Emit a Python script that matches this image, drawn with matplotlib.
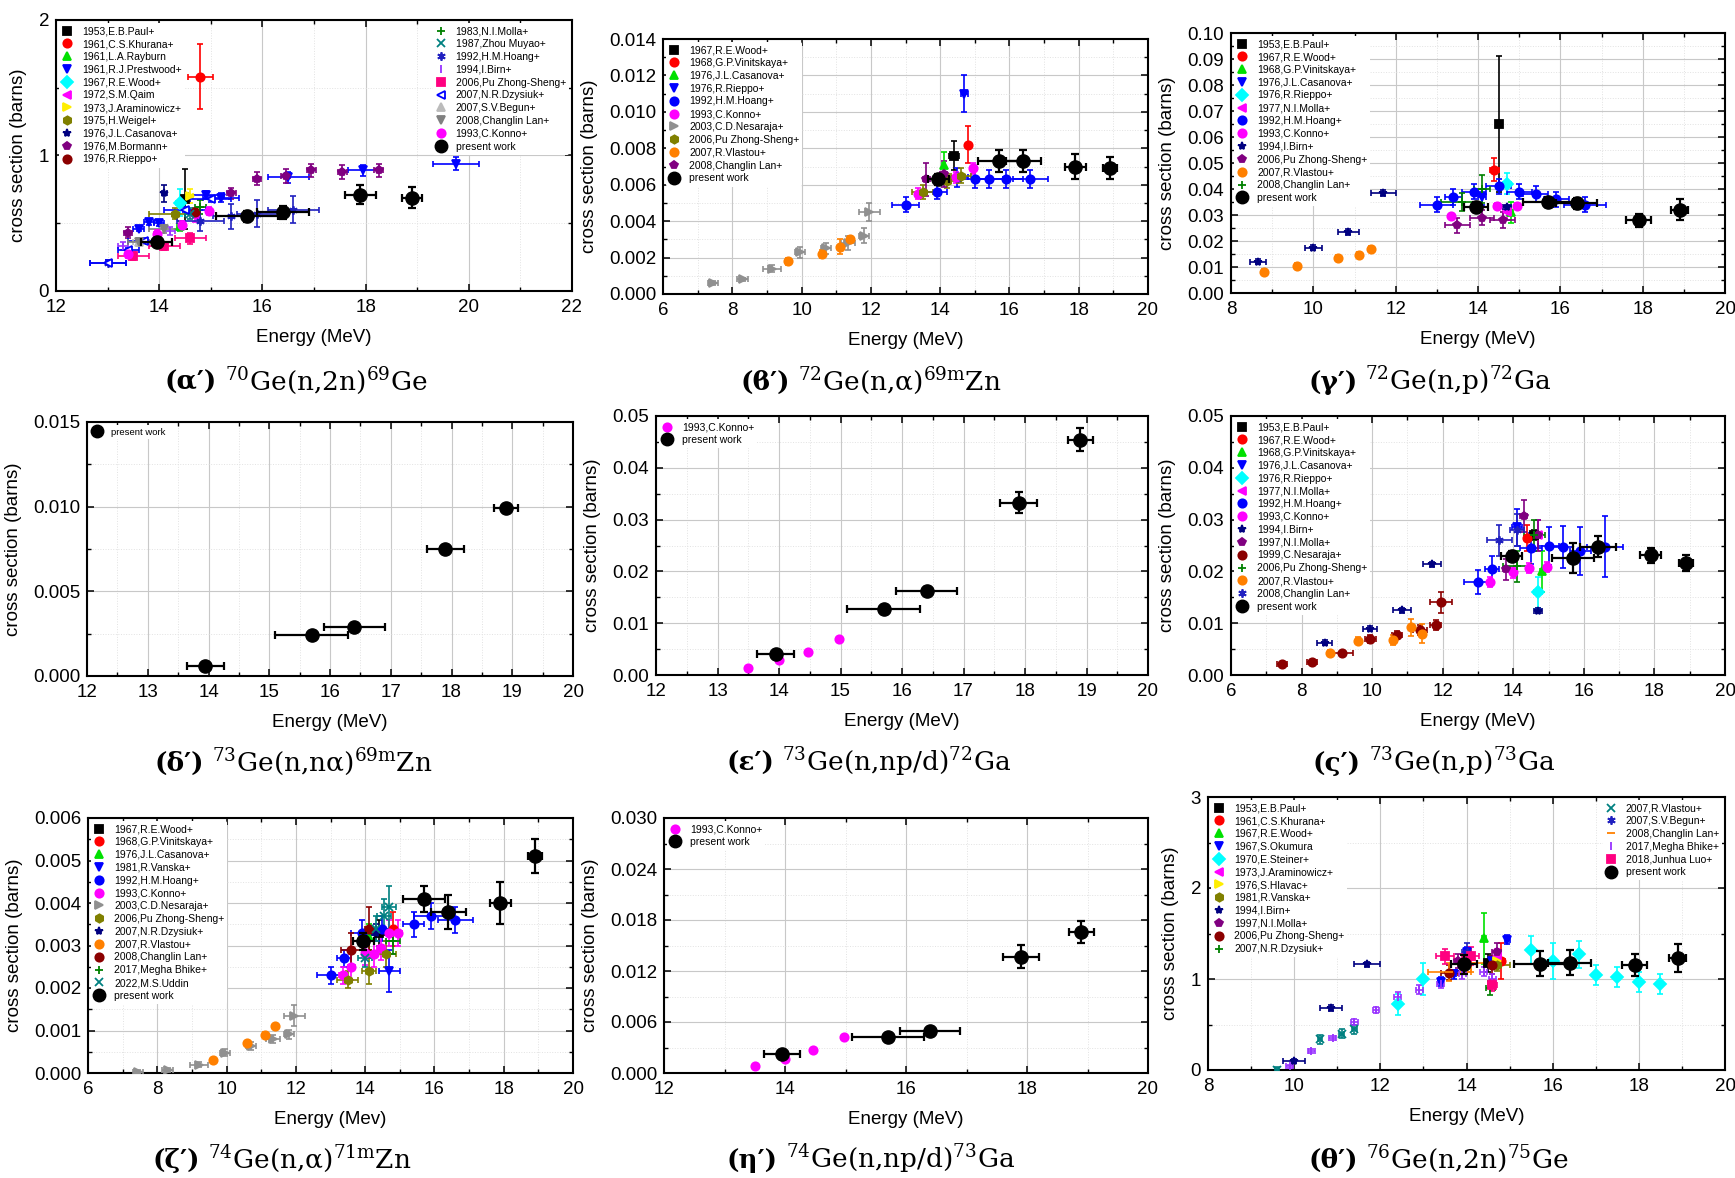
import matplotlib
matplotlib.use('Agg')
import matplotlib.pyplot as plt
from matplotlib.lines import Line2D
from matplotlib.ticker import MultipleLocator, FormatStrFormatter

plt.rcParams['font.family'] = ['Liberation Sans', 'DejaVu Sans']
plt.rcParams['mathtext.fontset'] = 'dejavuserif'

# present work: neutron energies (MeV) and their spread, shared by all panels
pw_e = [13.95, 15.7, 16.4, 17.9, 18.9]
pw_de = [0.3, 0.6, 0.5, 0.3, 0.2]

# each entry: (label, E, sigma, dE, dsigma)
ge70_n2n = [
    ('1953,E.B.Paul+', [14.5], [0.68], [0.03], [0.22]),
    ('1961,C.S.Khurana+', [14.8], [1.58], [0.25], [0.24]),
    ('1961,L.A.Rayburn', [14.4], [0.48], [0.05], [0.04]),
    ('1961,R.J.Prestwood+', [13.6, 13.8, 14.0, 14.9, 15.2, 16.5, 17.95, 19.75],
     [0.46, 0.51, 0.50, 0.71, 0.69, 0.84, 0.89, 0.94],
     [0.1, 0.1, 0.1, 0.35, 0.35, 0.4, 0.3, 0.45], [0.02, 0.02, 0.02, 0.03, 0.03, 0.04, 0.04, 0.05]),
    ('1967,R.E.Wood+', [14.4], [0.65], [0.08], [0.1]),
    ('1972,S.M.Qaim', [14.7], [0.55], [0.05], [0.04]),
    ('1973,J.Araminowicz+', [14.6], [0.70], [0.05], [0.05]),
    ('1975,H.Weigel+', [14.3], [0.57], [0.5], [0.04]),
    ('1976,J.L.Casanova+', [14.1], [0.72], [0.05], [0.06]),
    ('1976,M.Bormann+', [13.4, 15.4, 15.9, 16.45, 16.95, 17.55, 18.25],
     [0.43, 0.72, 0.83, 0.85, 0.89, 0.88, 0.89], [0.08] * 7, [0.04, 0.04, 0.05, 0.05, 0.05, 0.05, 0.05]),
    ('1976,R.Rieppo+', [14.7], [0.58], [0.05], [0.03]),
    ('1983,N.I.Molla+', [14.8], [0.62], [0.1], [0.05]),
    ('1987,Zhou Muyao+', [14.6], [0.57], [0.1], [0.04]),
    ('1992,H.M.Hoang+', [13.0, 14.8, 15.4, 15.9, 16.6], [0.21, 0.52, 0.55, 0.57, 0.6],
     [0.35, 0.45, 0.35, 0.4, 0.5], [0.02, 0.08, 0.09, 0.1, 0.1]),
    ('1994,I.Birn+', [13.3, 14.2], [0.33, 0.44], [0.1, 0.1], [0.03, 0.03]),
    ('2006,Pu Zhong-Sheng+', [13.5, 14.1, 14.6], [0.26, 0.33, 0.39], [0.3, 0.3, 0.3], [0.03, 0.03, 0.04]),
    ('2007,N.R.Dzysiuk+', [13.0, 13.4, 13.7, 14.5, 15.0], [0.21, 0.30, 0.37, 0.60, 0.68],
     [0.35, 0.2, 0.3, 0.4, 0.4], [0.02] * 5),
    ('2007,S.V.Begun+', [13.6], [0.36], [0.1], [0.03]),
    ('2008,Changlin Lan+', [13.6, 14.1], [0.36, 0.46], [0.2, 0.3], [0.03, 0.03]),
    ('1993,C.Konno+', [13.4, 13.95, 14.45, 14.97], [0.27, 0.42, 0.49, 0.59], [0.05] * 4, [0.03] * 4),
]
ge70_n2n_pw = [0.36, 0.55, 0.58, 0.71, 0.69]
ge70_n2n_pw_err = [0.03, 0.04, 0.05, 0.07, 0.08]

ge72_na = [
    ('1967,R.E.Wood+', [14.4], [0.0076], [0.15], [0.0008]),
    ('1968,G.P.Vinitskaya+', [14.8], [0.0082], [0.05], [0.001]),
    ('1976,J.L.Casanova+', [14.1], [0.0071], [0.05], [0.0007]),
    ('1976,R.Rieppo+', [14.7], [0.011], [0.1], [0.001]),
    ('1992,H.M.Hoang+', [13.0, 13.9, 14.5, 15.0, 15.4, 15.9, 16.6],
     [0.0049, 0.0056, 0.0064, 0.0063, 0.0063, 0.0063, 0.0063],
     [0.4, 0.3, 0.3, 0.4, 0.4, 0.5, 0.5], [0.0004, 0.0004, 0.0005, 0.0005, 0.0005, 0.0005, 0.0005]),
    ('1993,C.Konno+', [13.35, 14.45, 14.95], [0.0055, 0.0064, 0.0069], [0.05] * 3, [0.0003] * 3),
    ('2003,C.D.Nesaraja+', [7.45, 8.3, 9.15, 9.95, 10.7, 11.35, 11.8, 11.95],
     [0.0006, 0.0008, 0.0014, 0.0023, 0.0025, 0.0028, 0.0032, 0.0045],
     [0.15, 0.15, 0.25, 0.15, 0.15, 0.2, 0.15, 0.3],
     [0.0001, 0.0001, 0.0002, 0.0003, 0.0003, 0.0004, 0.0004, 0.0005]),
    ('2006,Pu Zhong-Sheng+', [13.5, 14.2, 14.6], [0.0056, 0.0062, 0.0065], [0.3] * 3, [0.0004] * 3),
    ('2007,R.Vlastou+', [9.6, 10.6, 11.1, 11.4], [0.0018, 0.0022, 0.0026, 0.0030], [0.05] * 4,
     [0.0002, 0.0002, 0.0004, 0.0002]),
    ('2008,Changlin Lan+', [13.6, 14.1], [0.0063, 0.0066], [0.1, 0.1], [0.0009, 0.0007]),
]
ge72_na_pw = [0.0063, 0.0073, 0.0073, 0.0070, 0.0069]
ge72_na_pw_err = [0.0003, 0.0006, 0.0006, 0.0007, 0.0006]

ge72_np = [
    ('1953,E.B.Paul+', [14.5], [0.065], [0.02], [0.026]),
    ('1967,R.E.Wood+', [14.4], [0.0475], [0.1], [0.0045]),
    ('1968,G.P.Vinitskaya+', [14.8], [0.031], [0.05], [0.004]),
    ('1976,J.L.Casanova+', [14.1], [0.037], [0.1], [0.003]),
    ('1976,R.Rieppo+', [14.7], [0.042], [0.1], [0.004]),
    ('1977,N.I.Molla+', [14.7], [0.031], [0.1], [0.003]),
    ('1992,H.M.Hoang+', [13.0, 13.4, 13.9, 14.5, 15.0, 15.4, 15.9, 16.6],
     [0.034, 0.037, 0.039, 0.041, 0.039, 0.038, 0.036, 0.034],
     [0.4, 0.2, 0.3, 0.3, 0.3, 0.3, 0.3, 0.5], [0.003] * 8),
    ('1993,C.Konno+', [13.35, 14.45, 14.95], [0.0295, 0.0335, 0.0335], [0.05] * 3, [0.001] * 3),
    ('1994,I.Birn+', [8.65, 10.0, 10.85, 11.7, 14.7], [0.012, 0.0175, 0.0235, 0.0385, 0.033],
     [0.2, 0.2, 0.25, 0.3, 0.1], [0.001] * 5),
    ('2006,Pu Zhong-Sheng+', [13.5, 14.1, 14.6], [0.026, 0.029, 0.028], [0.3] * 3, [0.003] * 3),
    ('2007,R.Vlastou+', [8.8, 9.6, 10.6, 11.1, 11.4], [0.008, 0.0105, 0.0135, 0.0145, 0.017],
     [0.05] * 5, [0.0012] * 5),
    ('2008,Changlin Lan+', [13.6, 14.1], [0.035, 0.040], [0.5, 0.2], [0.0035, 0.0055]),
]
ge72_np_pw = [0.033, 0.035, 0.0345, 0.028, 0.032]
ge72_np_pw_err = [0.002, 0.002, 0.002, 0.0025, 0.004]

ge73_nna = []
ge73_nna_pw = [0.0006, 0.0024, 0.0029, 0.0075, 0.0099]
ge73_nna_pw_err = [0.0001] * 5

ge73_npd = [
    ('1993,C.Konno+', [13.5, 14.0, 14.47, 14.98], [0.0013, 0.0028, 0.0045, 0.0069], None, None),
]
ge73_npd_pw = [0.0040, 0.0127, 0.0162, 0.0333, 0.0454]
ge73_npd_pw_err = [0.0003, 0.0003, 0.0008, 0.0021, 0.0022]

ge73_np = [
    ('1953,E.B.Paul+', [14.6], [0.027], [0.05], [0.001]),
    ('1967,R.E.Wood+', [14.4], [0.0265], [0.1], [0.0025]),
    ('1968,G.P.Vinitskaya+', [14.8], [0.020], [0.05], [0.004]),
    ('1976,J.L.Casanova+', [14.1], [0.0285], [0.15], [0.0035]),
    ('1976,R.Rieppo+', [14.7], [0.016], [0.1], [0.003]),
    ('1977,N.I.Molla+', [14.7], [0.027], [0.1], [0.003]),
    ('1992,H.M.Hoang+', [13.0, 13.4, 14.5, 15.0, 15.4, 15.9, 16.6],
     [0.018, 0.0205, 0.0245, 0.0249, 0.0247, 0.024, 0.0248],
     [0.4, 0.2, 0.3, 0.3, 0.3, 0.3, 0.5], [0.0023, 0.0025, 0.003, 0.0036, 0.004, 0.0046, 0.0058]),
    ('1993,C.Konno+', [13.35, 14.0, 14.45, 14.95], [0.018, 0.0198, 0.0206, 0.0208], [0.05] * 4, [0.001] * 4),
    ('1994,I.Birn+', [8.65, 9.95, 10.85, 11.7, 14.7], [0.0062, 0.0089, 0.0125, 0.0214, 0.0124],
     [0.2, 0.2, 0.25, 0.25, 0.1], [0.0005] * 5),
    ('1997,N.I.Molla+', [13.8, 14.3, 14.7], [0.0204, 0.0307, 0.027], [0.1] * 3, [0.002, 0.003, 0.003]),
    ('1999,C.Nesaraja+', [7.45, 8.3, 9.15, 9.95, 10.7, 11.35, 11.8, 11.95],
     [0.0022, 0.0026, 0.0042, 0.0070, 0.0077, 0.0087, 0.0097, 0.0140],
     [0.15, 0.15, 0.3, 0.15, 0.15, 0.2, 0.15, 0.3],
     [0.0003, 0.0003, 0.0004, 0.0008, 0.0008, 0.001, 0.001, 0.002]),
    ('2006,Pu Zhong-Sheng+', [14.1, 14.6], [0.021, 0.027], [0.4, 0.3], [0.003, 0.003]),
    ('2007,R.Vlastou+', [8.8, 9.6, 10.6, 11.1, 11.4], [0.0043, 0.0066, 0.0068, 0.0092, 0.0080],
     [0.05] * 5, [0.0006, 0.0007, 0.001, 0.0017, 0.0019]),
    ('2008,Changlin Lan+', [13.6, 14.1], [0.026, 0.028], [0.35, 0.2], [0.003, 0.003]),
]
ge73_np_pw = [0.0230, 0.0226, 0.0248, 0.0231, 0.0216]
ge73_np_pw_err = [0.001, 0.0029, 0.002, 0.0015, 0.0016]

ge74_na = [
    ('1967,R.E.Wood+', [14.4], [0.0033], [0.15], [0.0003]),
    ('1968,G.P.Vinitskaya+', [14.8], [0.0034], [0.05], [0.0004]),
    ('1976,J.L.Casanova+', [14.1], [0.0032], [0.05], [0.0003]),
    ('1981,R.Vanska+', [14.7], [0.0024], [0.3], [0.0005]),
    ('1992,H.M.Hoang+', [13.0, 13.4, 13.9, 14.5, 15.4, 15.9, 16.6],
     [0.0023, 0.0027, 0.0033, 0.0034, 0.0035, 0.0037, 0.0036],
     [0.4, 0.2, 0.3, 0.3, 0.3, 0.5, 0.5], [0.0002, 0.0002, 0.0003, 0.0003, 0.0003, 0.0003, 0.0003]),
    ('1993,C.Konno+', [13.35, 13.6, 14.0, 14.25, 14.45, 14.7, 14.95],
     [0.0023, 0.0025, 0.00283, 0.0028, 0.00295, 0.0033, 0.0033],
     [0.1] * 7, [0.0002, 0.0003, 0.0003, 0.0003, 0.0003, 0.0003, 0.0003]),
    ('2003,C.D.Nesaraja+', [7.45, 8.3, 9.2, 9.95, 10.7, 11.35, 11.8, 11.95],
     [0.00003, 0.00007, 0.0002, 0.00048, 0.00063, 0.0008, 0.00091, 0.00135],
     [0.15, 0.15, 0.25, 0.15, 0.15, 0.2, 0.15, 0.3],
     [0.00003, 0.00005, 0.00005, 0.00008, 0.0001, 0.0001, 0.0001, 0.00025]),
    ('2006,Pu Zhong-Sheng+', [13.5, 14.1, 14.6], [0.0022, 0.0024, 0.0028], [0.3, 0.2, 0.3],
     [0.0002, 0.0003, 0.0003]),
    ('2007,N.R.Dzysiuk+', [14.3], [0.0033], [0.1], [0.0002]),
    ('2007,R.Vlastou+', [9.6, 10.6, 11.1, 11.4], [0.0003, 0.0007, 0.0009, 0.0011], [0.05] * 4,
     [0.00005, 0.00005, 0.00006, 0.00006]),
    ('2008,Changlin Lan+', [13.6, 14.1], [0.0029, 0.0034], [0.3, 0.1], [0.0004, 0.0005]),
    ('2017,Megha Bhike+', [14.8], [0.0031], [0.2], [0.0003]),
    ('2022,M.S.Uddin', [14.0, 14.3, 14.55, 14.7], [0.0027, 0.0034, 0.0037, 0.0039], [0.2] * 4,
     [0.0002, 0.0003, 0.0004, 0.0005]),
]
ge74_na_pw = [0.0031, 0.0041, 0.0038, 0.0040, 0.0051]
ge74_na_pw_err = [0.0002, 0.0003, 0.0004, 0.0005, 0.0004]

ge74_npd = [
    ('1993,C.Konno+', [13.5, 14.0, 14.47, 14.98], [0.0008, 0.0016, 0.0027, 0.0042], None, None),
]
ge74_npd_pw = [0.0022, 0.0042, 0.0050, 0.0137, 0.0166]
ge74_npd_pw_err = [0.0002, 0.0002, 0.0002, 0.0014, 0.0013]

ge76_n2n = [
    ('1953,E.B.Paul+', [14.5], [1.18], [0.05], [0.1]),
    ('1961,C.S.Khurana+', [14.8], [1.2], [0.1], [0.2]),
    ('1967,R.E.Wood+', [14.4], [1.45], [0.05], [0.28]),
    ('1967,S.Okumura', [13.4, 13.7, 14.0, 14.6, 14.95], [0.97, 1.05, 1.3, 1.2, 1.43], [0.05] * 5, [0.05] * 5),
    ('1970,E.Steiner+', [12.4, 13.0, 15.5, 16.0, 16.6, 17.0, 17.5, 18.0, 18.5],
     [0.72, 1.0, 1.32, 1.2, 1.27, 1.04, 1.02, 0.97, 0.95], [0.05] * 9,
     [0.12, 0.18, 0.15, 0.2, 0.15, 0.11, 0.11, 0.11, 0.11]),
    ('1973,J.Araminowicz+', [14.7], [1.25], [0.05], [0.08]),
    ('1976,S.Hlavac+', [14.7], [1.2], [0.05], [0.06]),
    ('1981,R.Vanska+', [14.7], [1.15], [0.3], [0.06]),
    ('1994,I.Birn+', [10.0, 10.85, 11.7], [0.1, 0.68, 1.16], [0.25, 0.25, 0.3], [0.02, 0.03, 0.03]),
    ('1997,N.I.Molla+', [13.8, 14.7], [1.2, 1.3], [0.1, 0.1], [0.08, 0.1]),
    ('2006,Pu Zhong-Sheng+', [13.6, 14.6], [1.07, 1.15], [0.2, 0.2], [0.08, 0.1]),
    ('2007,N.R.Dzysiuk+', [14.55], [0.9], [0.1], [0.08]),
    ('2007,R.Vlastou+', [9.6, 10.6, 11.1, 11.4], [0.0, 0.34, 0.40, 0.45], [0.05] * 4, [0.03, 0.05, 0.05, 0.05]),
    ('2007,S.V.Begun+', [14.0], [1.3], [0.1], [0.1]),
    ('2008,Changlin Lan+', [13.6, 14.1], [1.08, 1.18], [0.5, 0.3], [0.1, 0.1]),
    ('2017,Megha Bhike+', [9.9, 10.4, 10.9, 11.4, 11.9, 12.4, 12.9, 13.4, 13.9, 14.4, 14.6],
     [0.04, 0.21, 0.35, 0.53, 0.66, 0.8, 0.88, 0.95, 1.05, 1.08, 1.0], [0.08] * 11,
     [0.02, 0.02, 0.02, 0.03, 0.03, 0.06, 0.05, 0.05, 0.05, 0.05, 0.05]),
    ('2018,Junhua Luo+', [13.5, 14.1, 14.6], [1.25, 1.25, 0.93], [0.2, 0.2, 0.1], [0.08, 0.1, 0.06]),
]
ge76_n2n_pw = [1.16, 1.17, 1.18, 1.15, 1.23]
ge76_n2n_pw_err = [0.1, 0.14, 0.14, 0.12, 0.15]

# marker styles (marker, colour, face)
STY = {
    'sq_k': ('s', 'black', None), 'ci_r': ('o', 'red', None), 'tu_g': ('^', '#00e000', None),
    'td_b': ('v', 'blue', None), 'di_c': ('D', 'cyan', None), 'tl_m': ('<', 'magenta', None),
    'tr_y': ('>', '#ffee00', None), 'hx_o': ('h', '#808000', None), 'st_n': ('*', '#000080', None),
    'pe_p': ('p', '#800080', None), 'sp_r': ('o', '#8b0000', None), 'pl_g': ('+', '#008000', None),
    'x_t': ('x', '#008080', None), 'as_b': ((6, 2, 0), '#2020c0', None), 'vl_v': ('|', '#9933ff', None),
    'sq_p': ('s', '#ff0080', None), 'tlo_b': ('<', 'blue', 'white'), 'tu_lg': ('^', '#bbbbbb', None),
    'td_g': ('v', '#808080', None), 'ci_b': ('o', 'blue', None), 'ci_m': ('o', 'magenta', None),
    'tr_gr': ('>', '#909090', None), 'ci_o': ('o', '#ff8000', None), 'hl_o': ('_', '#ff8000', None),
}

W, H = 1735, 1178
fig = plt.figure(figsize=(W / 100, H / 100), dpi=100)

panels = [
    dict(box=(56, 572, 20, 291), data=ge70_n2n, pw=ge70_n2n_pw, pwe=ge70_n2n_pw_err,
         sty=['sq_k', 'ci_r', 'tu_g', 'td_b', 'di_c', 'tl_m', 'tr_y', 'hx_o', 'st_n', 'pe_p', 'sp_r',
              'pl_g', 'x_t', 'as_b', 'vl_v', 'sq_p', 'tlo_b', 'tu_lg', 'td_g', 'ci_m'],
         xl=(12, 22, 2, 1), yl=(0, 2, 1, 0.5), fmt='%d', split=11, xlab='Energy (MeV)',
         cap=(296, 390, '(α′)', r'$^{70}$Ge(n,2n)$^{69}$Ge')),
    dict(box=(663, 1148, 39, 294), data=ge72_na, pw=ge72_na_pw, pwe=ge72_na_pw_err,
         sty=['sq_k', 'ci_r', 'tu_g', 'td_b', 'ci_b', 'ci_m', 'tr_gr', 'hx_o', 'ci_o', 'pe_p'],
         xl=(6, 20, 2, 1), yl=(0, 0.014, 0.002, 0.001), fmt='%.3f', split=None, xlab='Energy (MeV)',
         cap=(871, 390, '(ϐ′)', r'$^{72}$Ge(n,α)$^{69\mathrm{m}}$Zn')),
    dict(box=(1231, 1725, 33, 293), data=ge72_np, pw=ge72_np_pw, pwe=ge72_np_pw_err,
         sty=['sq_k', 'ci_r', 'tu_g', 'td_b', 'di_c', 'tl_m', 'ci_b', 'ci_m', 'st_n', 'pe_p', 'ci_o', 'pl_g'],
         xl=(8, 20, 2, 1), yl=(0, 0.10, 0.01, 0.005), fmt='%.2f', split=None, xlab='Energy (MeV)',
         cap=(1430, 390, '(γ′)', r'$^{72}$Ge(n,p)$^{72}$Ga')),
    dict(box=(87, 573, 422, 676), data=ge73_nna, pw=ge73_nna_pw, pwe=ge73_nna_pw_err, sty=[],
         xl=(12, 20, 1, 0.5), yl=(0, 0.015, 0.005, 0.0025), fmt='%.3f', split=None, xlab='Energy (MeV)',
         cap=(293, 771, '(δ′)', r'$^{73}$Ge(n,nα)$^{69\mathrm{m}}$Zn'), small=True),
    dict(box=(656, 1148, 416, 675), data=ge73_npd, pw=ge73_npd_pw, pwe=ge73_npd_pw_err, sty=['ci_m'],
         xl=(12, 20, 1, 0.5), yl=(0, 0.05, 0.01, 0.005), fmt='%.2f', split=None, xlab='Energy (MeV)',
         cap=(869, 771, '(ε′)', r'$^{73}$Ge(n,np/d)$^{72}$Ga')),
    dict(box=(1231, 1725, 416, 675), data=ge73_np, pw=ge73_np_pw, pwe=ge73_np_pw_err,
         sty=['sq_k', 'ci_r', 'tu_g', 'td_b', 'di_c', 'tl_m', 'ci_b', 'ci_m', 'st_n', 'pe_p', 'sp_r',
              'pl_g', 'ci_o', 'as_b'],
         xl=(6, 20, 2, 1), yl=(0, 0.05, 0.01, 0.005), fmt='%.2f', split=None, xlab='Energy (MeV)',
         cap=(1434, 771, '(ς′)', r'$^{73}$Ge(n,p)$^{73}$Ga')),
    dict(box=(88, 573, 818, 1073), data=ge74_na, pw=ge74_na_pw, pwe=ge74_na_pw_err,
         sty=['sq_k', 'ci_r', 'tu_g', 'td_b', 'ci_b', 'ci_m', 'tr_gr', 'hx_o', 'st_n', 'ci_o', 'sp_r',
              'pl_g', 'x_t'],
         xl=(6, 20, 2, 1), yl=(0, 0.006, 0.001, 0.0005), fmt='%.3f', split=None, xlab='Energy (Mev)',
         cap=(282, 1168, '(ζ′)', r'$^{74}$Ge(n,α)$^{71\mathrm{m}}$Zn')),
    dict(box=(664, 1148, 818, 1073), data=ge74_npd, pw=ge74_npd_pw, pwe=ge74_npd_pw_err, sty=['ci_m'],
         xl=(12, 20, 2, 1), yl=(0, 0.030, 0.006, 0.003), fmt='%.3f', split=None, xlab='Energy (MeV)',
         cap=(871, 1168, '(η′)', r'$^{74}$Ge(n,np/d)$^{73}$Ga')),
    dict(box=(1208, 1725, 797, 1070), data=ge76_n2n, pw=ge76_n2n_pw, pwe=ge76_n2n_pw_err,
         sty=['sq_k', 'ci_r', 'tu_g', 'td_b', 'di_c', 'tl_m', 'tr_y', 'hx_o', 'st_n', 'pe_p', 'sp_r',
              'pl_g', 'x_t', 'as_b', 'hl_o', 'vl_v', 'sq_p'],
         xl=(8, 20, 2, 1), yl=(0, 3, 1, 0.5), fmt='%d', split=12, xlab='Energy (MeV)',
         cap=(1439, 1168, '(θ′)', r'$^{76}$Ge(n,2n)$^{75}$Ge')),
]

caps = []
for p in panels:
    l, r, t, b = p['box']
    ax = fig.add_axes([l / W, 1 - b / H, (r - l) / W, (b - t) / H])
    handles = []
    for (lab, e, s, de, ds), key in zip(p['data'], p['sty']):
        m, c, fc = STY[key]
        if de is not None:
            ax.errorbar(e, s, xerr=de, yerr=ds, fmt='none', ecolor=c, elinewidth=1.2,
                        capsize=2.5, capthick=1.2, zorder=3)
        ax.plot(e, s, ls='none', marker=m, color=c, mfc=fc or c, ms=6, mew=1.3, zorder=4)
        handles.append(Line2D([], [], ls='none', marker=m, color=c, mfc=fc or c, ms=6, mew=1.3, label=lab))
    ax.errorbar(pw_e, p['pw'], xerr=pw_de, yerr=p['pwe'], fmt='o', color='black', ms=9.5,
                elinewidth=1.6, capsize=3, capthick=1.6, zorder=5)
    handles.append(Line2D([], [], ls='none', marker='o', color='black', ms=9, label='present work'))

    x0, x1, xM, xm = p['xl']
    y0, y1, yM, ym = p['yl']
    ax.set_xlim(x0, x1)
    ax.set_ylim(y0, y1)
    ax.xaxis.set_major_locator(MultipleLocator(xM))
    ax.xaxis.set_minor_locator(MultipleLocator(xm))
    ax.yaxis.set_major_locator(MultipleLocator(yM))
    ax.yaxis.set_minor_locator(MultipleLocator(ym))
    ax.yaxis.set_major_formatter(FormatStrFormatter(p['fmt']))
    ax.tick_params(which='both', direction='in', top=True, right=True, labelsize=13.5)
    ax.tick_params(which='major', length=5, width=1.1)
    ax.tick_params(which='minor', length=3, width=1.0)
    ax.tick_params(axis='y', pad=5)
    ax.tick_params(axis='x', pad=6)
    for sp in ax.spines.values():
        sp.set_linewidth(1.5)
    ax.grid(which='major', color='#c8c8c8', lw=0.8)
    ax.grid(which='minor', color='#e2e2e2', ls=':', lw=0.7)
    ax.set_axisbelow(True)
    ax.set_xlabel(p['xlab'], fontsize=13.5, labelpad=9)
    ax.set_ylabel('cross section (barns)', fontsize=13.5, labelpad=8)

    fs = 6.8 if p.get('small') else 7.5
    lkw = dict(fontsize=fs, frameon=True, facecolor='white', edgecolor='none', framealpha=1,
               handlelength=1.0, handletextpad=0.9, labelspacing=0.27, borderpad=0.3,
               borderaxespad=0.3)
    if p['split']:
        n = p['split']
        leg1 = ax.legend(handles=handles[:n], loc='upper left', **lkw)
        ax.add_artist(leg1)
        ax.legend(handles=handles[n:], loc='upper right', **lkw)
    else:
        ax.legend(handles=handles, loc='upper left', **lkw)

    xc, yb, pre, body = p['cap']
    t1 = fig.text(0, 1 - yb / H, pre, fontsize=19, fontweight='bold', family='DejaVu Serif', va='baseline')
    t2 = fig.text(0, 1 - yb / H, body, fontsize=19, family='DejaVu Serif', va='baseline')
    caps.append((xc, t1, t2))

fig.canvas.draw()
rend = fig.canvas.get_renderer()
for xc, t1, t2 in caps:
    w1 = t1.get_window_extent(rend).width
    w2 = t2.get_window_extent(rend).width
    gap = 8
    left = xc - (w1 + gap + w2) / 2
    t1.set_x(left / W)
    t2.set_x((left + w1 + gap) / W)

fig.savefig('out.png', dpi=100)
